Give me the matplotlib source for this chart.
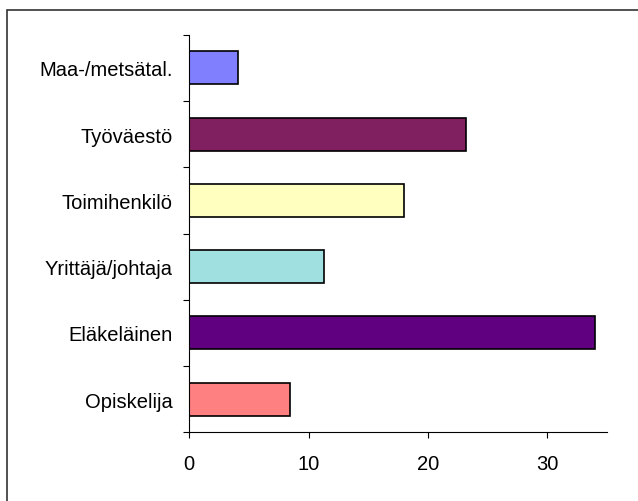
import matplotlib.pyplot as plt
from matplotlib.patches import Rectangle

# Data (bottom to top)
categories = ['Opiskelija', 'Eläkeläinen', 'Yrittäjä/johtaja',
              'Toimihenkilö', 'Työväestö', 'Maa-/metsätal.']
values = [8.4, 34.0, 11.3, 18.0, 23.2, 4.05]
colors = ['#FF8080', '#600080', '#A0E0E0', '#FFFFC0', '#802060', '#8080FF']
x_ticks = [0, 10, 20, 30]

plt.rcParams['font.family'] = ['Liberation Sans', 'DejaVu Sans']

fig = plt.figure(figsize=(6.38, 5.02), dpi=100)

# Outer chart border (only left/top visible in the reference)
fig.patches.append(Rectangle((7 / 638, -0.1), 1.2, (502 - 11) / 502 + 0.1,
                             transform=fig.transFigure, fill=False,
                             edgecolor='#333333', linewidth=1.2))

ax = fig.add_axes([189.3 / 638, (502 - 433.3) / 502, 417.6 / 638, 397.6 / 502])

ypos = list(range(len(categories)))
ax.barh(ypos, values, height=0.5, color=colors, edgecolor='black', linewidth=1.2)

ax.set_xlim(0, 35)
ax.set_ylim(-0.5, len(categories) - 0.5)

ax.set_xticks(x_ticks)
ax.set_xticklabels([str(t) for t in x_ticks], fontsize=14.5)
ax.tick_params(axis='x', direction='out', length=4.5, width=0.8, pad=11)

# y: tick marks on category boundaries, labels at centres
ax.set_yticks([i - 0.5 for i in range(len(categories) + 1)])
ax.set_yticklabels([])
ax.set_yticks(ypos, minor=True)
ax.set_yticklabels(categories, minor=True, fontsize=14.5)
ax.tick_params(axis='y', which='major', direction='out', length=4.5, width=0.8)
ax.tick_params(axis='y', which='minor', length=0, pad=12)

for side in ['top', 'right']:
    ax.spines[side].set_visible(False)
for side in ['left', 'bottom']:
    ax.spines[side].set_linewidth(0.8)

fig.savefig('out.png', dpi=100)
